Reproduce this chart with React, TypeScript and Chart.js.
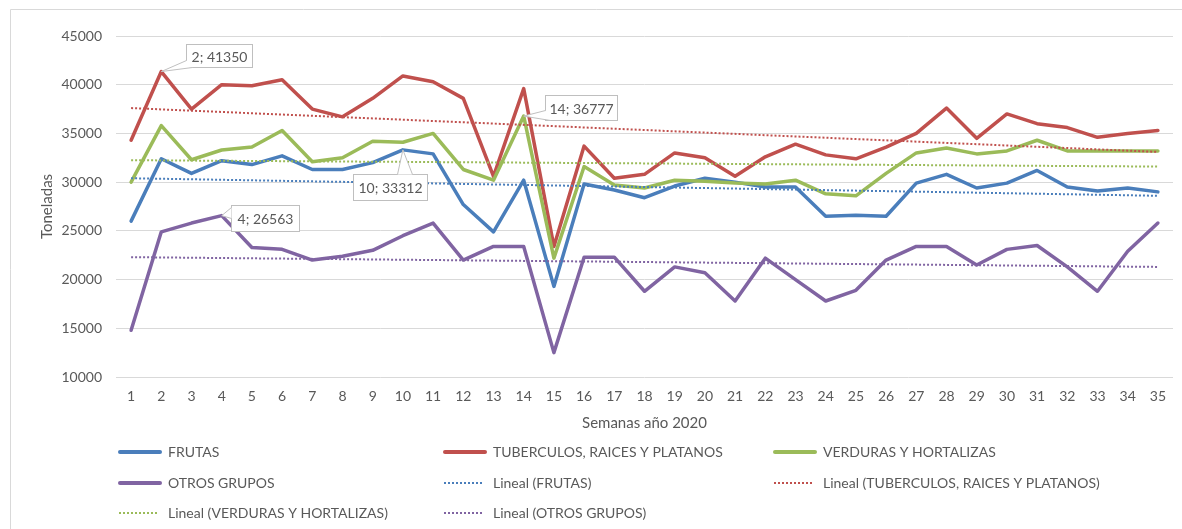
import React, { useEffect, useRef } from "react";
import { Chart, registerables } from "chart.js";

Chart.register(...registerables);

// ---------- DATA ----------
const weeks = ["1","2","3","4","5","6","7","8","9","10","11","12","13","14","15","16","17","18","19","20","21","22","23","24","25","26","27","28","29","30","31","32","33","34","35"];

const frutas = [26000, 32400, 30900, 32200, 31800, 32700, 31300, 31300, 32000, 33312, 32900, 27700, 24900, 30200, 19300, 29800, 29200, 28400, 29600, 30400, 30000, 29500, 29500, 26500, 26600, 26500, 29900, 30800, 29400, 29900, 31200, 29500, 29100, 29400, 29000];
const tuberculos = [34300, 41350, 37500, 40000, 39900, 40500, 37500, 36700, 38600, 40900, 40300, 38600, 30600, 39600, 23400, 33700, 30400, 30800, 33000, 32500, 30600, 32600, 33900, 32800, 32400, 33600, 35000, 37600, 34500, 37000, 36000, 35600, 34600, 35000, 35300];
const verduras = [30000, 35800, 32300, 33300, 33600, 35300, 32100, 32500, 34200, 34100, 35000, 31300, 30200, 36777, 22200, 31600, 29700, 29400, 30200, 30100, 29900, 29800, 30200, 28800, 28600, 30900, 33000, 33500, 32900, 33200, 34300, 33200, 33200, 33200, 33200];
const otros = [14800, 24900, 25800, 26563, 23300, 23100, 22000, 22400, 23000, 24500, 25800, 22000, 23400, 23400, 12500, 22300, 22300, 18800, 21300, 20700, 17800, 22200, 20000, 17800, 18900, 22000, 23400, 23400, 21500, 23100, 23500, 21300, 18800, 22900, 25800];

// Linear trend lines: value at first week and at last week
const trendFrutas = [30400, 28600];
const trendTuberculos = [37600, 33100];
const trendVerduras = [32250, 31600];
const trendOtros = [22300, 21300];

const seriesNames = ["FRUTAS", "TUBERCULOS, RAICES Y PLATANOS", "VERDURAS Y HORTALIZAS", "OTROS GRUPOS"];

const yTicks = [10000, 15000, 20000, 25000, 30000, 35000, 40000, 45000];

// labelled points: [series index, week index]
const calloutPoints = [[1, 1], [0, 9], [3, 3], [2, 13]];

// ---------- STYLE ----------
const FONT = "Lato, 'Open Sans', sans-serif";
const TEXT = "#595959";
const GRID = "#d9d9d9";
const colors = ["#4a7ebb", "#c0504d", "#9bbb59", "#8064a2"];

const seriesValues = [frutas, tuberculos, verduras, otros];
const trendValues = [trendFrutas, trendTuberculos, trendVerduras, trendOtros];

// callout box geometry relative to point (dx, dy, w, h, wedge base points)
const calloutGeom = [
  { dx: 25, dy: -28, w: 66, h: 23, b: (l, t, w, h) => [[l, t + h - 7], [l + 6, t + h]] },
  { dx: -50, dy: 24, w: 74, h: 26, b: (l, t, w, h) => [[l + 44, t], [l + 59, t]] },
  { dx: 9, dy: -11, w: 68, h: 26, b: (l, t, w, h) => [[l, t + 2], [l, t + 13]] },
  { dx: 21, dy: -21, w: 72, h: 25, b: (l, t, w, h) => [[l, t + h - 10], [l + 5, t + h]] },
];

const frame = {
  id: "frame",
  beforeDraw(chart) {
    const ctx = chart.ctx;
    ctx.save();
    ctx.strokeStyle = GRID;
    ctx.lineWidth = 1;
    ctx.beginPath();
    ctx.moveTo(10.5, 529);
    ctx.lineTo(10.5, 9.5);
    ctx.lineTo(1182, 9.5);
    ctx.stroke();
    ctx.restore();
  },
};

const callouts = {
  id: "callouts",
  afterDatasetsDraw(chart) {
    const ctx = chart.ctx;
    const xs = chart.scales.x;
    const ys = chart.scales.y;
    ctx.save();
    calloutPoints.forEach(([s, i], k) => {
      const g = calloutGeom[k];
      const v = seriesValues[s][i];
      const px = xs.getPixelForValue(i);
      const py = ys.getPixelForValue(v);
      const l = Math.round(px + g.dx) + 0.5;
      const t = Math.round(py + g.dy) + 0.5;
      ctx.fillStyle = "#ffffff";
      ctx.strokeStyle = "#bfbfbf";
      ctx.lineWidth = 1;
      ctx.fillRect(l, t, g.w, g.h);
      ctx.strokeRect(l, t, g.w, g.h);
      const [b1, b2] = g.b(l, t, g.w, g.h);
      ctx.beginPath();
      ctx.moveTo(b1[0], b1[1]);
      ctx.lineTo(px, py);
      ctx.lineTo(b2[0], b2[1]);
      ctx.closePath();
      ctx.fill();
      ctx.beginPath();
      ctx.moveTo(b1[0], b1[1]);
      ctx.lineTo(px, py);
      ctx.lineTo(b2[0], b2[1]);
      ctx.stroke();
      ctx.fillStyle = TEXT;
      ctx.font = `14px ${FONT}`;
      ctx.textAlign = "center";
      ctx.textBaseline = "middle";
      ctx.fillText(`${weeks[i]}; ${v}`, l + g.w / 2, t + g.h / 2 + 1);
    });
    ctx.restore();
  },
};

const legendCols = [118, 443, 773];
const legendRows = [452, 483, 513];

const bottomLegend = {
  id: "bottomLegend",
  afterDraw(chart) {
    const ctx = chart.ctx;
    ctx.save();
    chart.data.datasets.forEach((ds, k) => {
      const col = k % 3;
      const row = Math.floor(k / 3);
      const x = legendCols[col];
      const y = legendRows[row];
      ctx.beginPath();
      if (ds.borderDash && ds.borderDash.length) {
        ctx.setLineDash([2, 2]);
        ctx.lineWidth = 2;
        ctx.lineCap = "butt";
        ctx.moveTo(x + 1, y);
        ctx.lineTo(x + 41, y);
      } else {
        ctx.setLineDash([]);
        ctx.lineWidth = 4;
        ctx.lineCap = "round";
        ctx.moveTo(x + 2, y);
        ctx.lineTo(x + 42, y);
      }
      ctx.strokeStyle = ds.borderColor;
      ctx.stroke();
      ctx.setLineDash([]);
      ctx.fillStyle = TEXT;
      ctx.font = `14px ${FONT}`;
      ctx.textAlign = "left";
      ctx.textBaseline = "middle";
      ctx.fillText(ds.label, x + 50, y);
    });
    ctx.restore();
  },
};

export default function App() {
  const ref = useRef(null);

  useEffect(() => {
    const main = seriesValues.map((vals, k) => ({
      label: seriesNames[k],
      data: vals,
      borderColor: colors[k],
      backgroundColor: colors[k],
      borderWidth: 3.5,
      pointRadius: 0,
      pointHoverRadius: 0,
      tension: 0,
      borderCapStyle: "round",
      borderJoinStyle: "round",
      fill: false,
      order: 10 - k,
    }));
    const trends = trendValues.map((vals, k) => ({
      label: `Lineal (${seriesNames[k]})`,
      data: [
        { x: weeks[0], y: vals[0] },
        { x: weeks[weeks.length - 1], y: vals[1] },
      ],
      borderColor: colors[k],
      backgroundColor: colors[k],
      borderWidth: 2,
      borderDash: [2, 2],
      borderCapStyle: "butt",
      pointRadius: 0,
      pointHoverRadius: 0,
      fill: false,
      order: -k,
    }));
    // legend order: FRUTAS, TUB, VERD, OTROS, Lineal(FRUTAS), Lineal(TUB), Lineal(VERD), Lineal(OTROS)
    const datasets = [...main, ...trends];

    const chart = new Chart(ref.current, {
      type: "line",
      data: { labels: weeks, datasets },
      options: {
        responsive: false,
        animation: false,
        events: [],
        layout: { padding: { left: 0, top: 36, right: 9, bottom: 92 } },
        plugins: {
          legend: { display: false },
          tooltip: { enabled: false },
        },
        scales: {
          x: {
            type: "category",
            offset: true,
            grid: { display: false, drawTicks: false },
            border: { display: false },
            ticks: {
              color: TEXT,
              font: { family: FONT, size: 14 },
              padding: 11,
              maxRotation: 0,
              autoSkip: false,
            },
            title: {
              display: true,
              text: "Semanas año 2020",
              color: TEXT,
              font: { family: FONT, size: 15 },
              padding: { top: 0, bottom: 5 },
            },
            afterFit: (scale) => {
              scale.height = 60;
            },
          },
          y: {
            min: 10000,
            max: 45000,
            grid: { color: GRID, lineWidth: 1, drawTicks: false },
            border: { display: false },
            afterBuildTicks: (scale) => {
              scale.ticks = yTicks.map((v) => ({ value: v }));
            },
            ticks: {
              color: TEXT,
              font: { family: FONT, size: 14 },
              padding: 14,
              callback: (v) => String(v),
            },
            title: {
              display: true,
              text: "Toneladas",
              color: TEXT,
              font: { family: FONT, size: 15 },
              padding: { top: 38, bottom: 0 },
            },
            afterFit: (scale) => {
              scale.width = 116;
            },
          },
        },
      },
      plugins: [frame, callouts, bottomLegend],
    });
    return () => chart.destroy();
  }, []);

  return (
    <div style={{ position: "absolute", left: 0, top: 0, width: 1182, height: 529, background: "#ffffff" }}>
      <canvas ref={ref} width={1182} height={529} style={{ display: "block" }} />
    </div>
  );
}
